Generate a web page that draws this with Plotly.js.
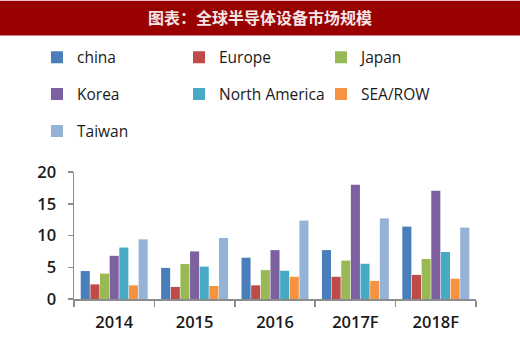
<!DOCTYPE html>
<html><head><meta charset="utf-8">
<script src="https://cdn.plot.ly/plotly-3.0.1.min.js"></script>
<style>html,body{margin:0;padding:0;background:#fff}#chart{width:520px;height:355px}</style>
</head><body><div id="chart"></div>
<script>
const categories = ["2014", "2015", "2016", "2017F", "2018F"];
const china        = [4.4, 4.9, 6.5, 7.7, 11.4];
const europe       = [2.3, 1.9, 2.15, 3.5, 3.8];
const japan        = [4.0, 5.5, 4.55, 6.05, 6.3];
const korea        = [6.8, 7.5, 7.7, 18.0, 17.05];
const northAmerica = [8.1, 5.1, 4.45, 5.55, 7.4];
const seaRow       = [2.15, 2.05, 3.5, 2.85, 3.2];
const taiwan       = [9.4, 9.6, 12.35, 12.7, 11.25];
const seriesNames  = ["china", "Europe", "Japan", "Korea", "North America", "SEA/ROW", "Taiwan"];
const seriesValues = [china, europe, japan, korea, northAmerica, seaRow, taiwan];
const colors = ["#4A7EBB", "#BE4B48", "#98B954", "#7D60A0", "#46AAC5", "#F69240", "#95B3D7"];
const legendOf = ["legend", "legend", "legend", "legend2", "legend2", "legend2", "legend3"];

const traces = seriesNames.map((n, i) => ({
  type: "bar", name: n, x: categories, y: seriesValues[i],
  marker: {color: colors[i], line: {width: 0}},
  legend: legendOf[i], hoverinfo: "skip"
}));

// plot area: x 74..476 px, y 171.7..299 px
const W = 520, H = 355, L = 74, R = 44, T = 171.7, B = 56;
const pw = W - L - R, ph = H - T - B;
const px2x = p => (p - L) / pw;
const py2y = p => (H - B - p) / ph;

const legFont = {family: "'Open Sans', sans-serif", size: 15.5, color: "#1a1a1a"};
function leg(ypx) {
  return {orientation: "h", x: px2x(37), xanchor: "left", y: py2y(ypx), yanchor: "middle",
    entrywidth: 97, entrywidthmode: "pixels", itemwidth: 30, font: legFont,
    bgcolor: "rgba(0,0,0,0)", traceorder: "normal"};
}
const tickFont = {family: "'Open Sans', sans-serif", size: 16.5, color: "#1a1a1a", weight: 600};

const layout = {
  width: W, height: H,
  margin: {l: L, r: R, t: T, b: B},
  paper_bgcolor: "#fff", plot_bgcolor: "#fff",
  barmode: "group", bargap: 0.16, bargroupgap: 0.06,
  title: {text: "图表：全球半导体设备市场规模", x: 0.5, xanchor: "center", xref: "container",
    y: 1 - 18 / H, yanchor: "middle", yref: "container",
    font: {family: "'Noto Sans CJK SC', sans-serif", size: 16, color: "#f3e6e6", weight: "bold"}},
  showlegend: true,
  legend: leg(57), legend2: leg(94), legend3: leg(131),
  xaxis: {type: "category", showline: true, linecolor: "#8c8c8c", linewidth: 1.5,
    ticks: "outside", tickson: "boundaries", ticklen: 6, tickcolor: "#8c8c8c", tickwidth: 1.5,
    showgrid: false, zeroline: false, fixedrange: true, ticklabelstandoff: 8,
    tickfont: tickFont},
  yaxis: {range: [0, 20], dtick: 5, showline: true, linecolor: "#8c8c8c", linewidth: 1.5,
    ticks: "outside", ticklen: 5, tickcolor: "#8c8c8c", tickwidth: 1.5,
    showgrid: false, zeroline: false, fixedrange: true, ticklabelstandoff: 8,
    tickfont: tickFont},
  shapes: [{type: "rect", xref: "paper", yref: "paper", layer: "below",
    x0: px2x(0), x1: px2x(W), y0: py2y(35), y1: py2y(0),
    fillcolor: "#990000", line: {width: 0}}]
};

Plotly.newPlot("chart", traces, layout, {displayModeBar: false, staticPlot: true});
</script></body></html>
